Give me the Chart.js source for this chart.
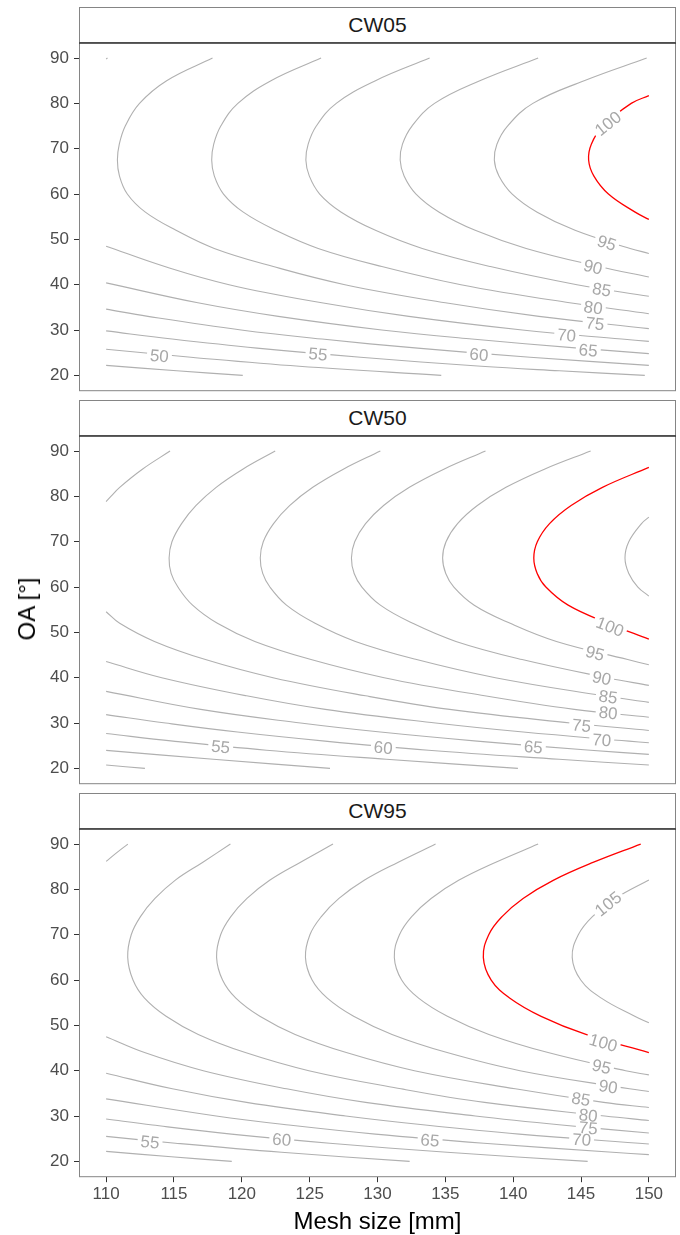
<!DOCTYPE html>
<html>
<head>
<meta charset="utf-8">
<script src="https://cdn.jsdelivr.net/npm/chart.js@4.4.1/dist/chart.umd.min.js"></script>
<style>
  html, body { margin: 0; padding: 0; background: #fff; }
  body { width: 680px; height: 1235px; position: relative; overflow: hidden; font-family: "Liberation Sans", Arial, sans-serif; }
  .strip { position: absolute; left: 79px; width: 597px; height: 35px; box-sizing: border-box;
           border: 1px solid #858585; border-bottom: none; background: #fff;
           text-align: center; font-size: 21px; line-height: 34px; color: #1a1a1a; }
  canvas { position: absolute; left: 0; }
  #ytitle { position: absolute; left: 27px; top: 609px; transform: translate(-50%, -50%) rotate(-90deg);
            font-size: 24px; color: #000; white-space: nowrap; }
</style>
</head>
<body>
<div class="strip" style="top:7px">CW05</div>
<div class="strip" style="top:400px">CW50</div>
<div class="strip" style="top:793px">CW95</div>
<canvas id="p1" width="680" height="349"></canvas>
<canvas id="p2" width="680" height="349"></canvas>
<canvas id="p3" width="680" height="407"></canvas>
<div id="ytitle">OA [°]</div>
<script>
// axis ticks
const xTicks = [110, 115, 120, 125, 130, 135, 140, 145, 150];
const yTicks = [20, 30, 40, 50, 60, 70, 80, 90];

// contour lines, [mesh size, OA]
// CW05
const cw05_45 = [[110,22.2],[115.2,21],[120.07,20]];
const cw05_50 = [[110,25.76],[116.25,24],[124.23,22],[134.7,20]];
const cw05_55 = [[110,29.8],[114.86,28],[121.12,26],[128.75,24],[137.65,22],[143.4,21],[149.7,20]];
const cw05_60 = [[110,34.6],[113.08,33],[119.95,30],[125.91,28],[132.96,26],[141.25,24],[150,22.2]];
const cw05_65 = [[110,40.4],[116.76,36],[122.69,33],[130.31,30],[136.96,28],[144.79,26],[150,24.8]];
const cw05_70 = [[110,48.5],[114.32,44],[119.06,40],[125.89,36],[132.31,33],[140.67,30],[148,28],[150,27.5]];
const cw05_70b = [[110,89.8],[110.1,90]];
const cw05_75 = [[117.84,90],[114.46,85],[112.46,80],[111.41,75],[110.97,71],[110.83,67.5],[110.98,64],[111.56,60],[112.89,56],[115.15,52],[117.97,48],[122.32,44],[127.6,40],[135.0,36],[141.9,33],[150,30.3]];
const cw05_80 = [[125.84,90],[122.15,85],[119.71,80],[118.45,75],[117.93,71],[117.78,67.5],[117.97,64],[118.65,60],[120.11,56],[122.5,52],[125.63,48],[130.32,44],[136.15,40],[144.16,36],[150,33.6]];
const cw05_85 = [[133.84,90],[129.85,85],[126.96,80],[125.49,75],[124.89,71],[124.72,67.5],[124.97,64],[125.74,60],[127.33,56],[129.85,52],[133.3,48],[138.32,44],[144.7,40],[150,37.45]];
const cw05_90 = [[141.84,90],[137.54,85],[134.2,80],[132.54,75],[131.84,71],[131.67,67.5],[131.96,64],[132.84,60],[134.55,56],[137.2,52],[140.96,48],[146.32,44],[150,41.7]];
const cw05_95 = [[149.84,90],[145.23,85],[141.45,80],[139.58,75],[138.8,71],[138.61,67.5],[138.95,64],[139.93,60],[141.77,56],[144.56,52],[148.62,48],[150,46.9]];
const cw05_100 = [[150,81.7],[148.7,80],[146.62,75],[145.76,71],[145.56,67.5],[145.94,64],[147.02,60],[148.99,56],[150,54.4]];
const cw05Labels = [[50,113.92,24.28],[55,125.61,24.66],[60,137.48,24.55],[65,145.53,25.54],[70,143.94,28.85],[75,146.03,31.43],[80,145.9,34.96],[85,146.52,38.93],[90,145.88,43.92],[95,146.89,49.21],[100,146.98,75.56]];

// CW50
const cw50_45 = [[110,20.73],[112.86,20]];
const cw50_50 = [[110,23.96],[117.9,22],[126.5,20]];
const cw50_55 = [[110,27.69],[114.93,26],[121.82,24],[130.64,22],[140.35,20]];
const cw50_60 = [[110,31.86],[114.38,30],[119.68,28],[126.13,26],[133.76,24],[143.38,22],[150,20.73]];
const cw50_65 = [[110,36.98],[116.97,33],[124.33,30],[130.21,28],[137.34,26],[145.7,24],[150,23.08]];
const cw50_70 = [[110,43.57],[114.1,40],[120.35,36],[126.15,33],[134.28,30],[140.74,28],[148.54,26],[150,25.65]];
const cw50_75a = [[110,78.86],[110.35,80],[111.0,82],[112.67,86],[114.71,90]];
const cw50_75b = [[110,54.55],[111.0,52],[113.56,48],[117.32,44],[122.3,40],[129.12,36],[135.32,33],[144.23,30],[150,28.35]];
const cw50_80 = [[122.46,90],[120.07,86],[118.11,82],[116.63,78],[115.56,74],[114.85,70],[114.64,66.4],[114.79,63],[115.29,60],[116.37,56],[118.2,52],[120.96,48],[125.1,44],[130.49,40],[137.9,36],[144.5,33],[150,31.27]];
const cw50_85 = [[130.21,90],[127.48,86],[125.23,82],[123.54,78],[122.34,74],[121.58,70],[121.36,66.4],[121.54,63],[122.07,60],[123.29,56],[125.4,52],[128.37,48],[132.88,44],[138.69,40],[146.67,36],[150,34.56]];
const cw50_90 = [[137.96,90],[134.89,86],[132.35,82],[130.45,78],[129.12,74],[128.32,70],[128.08,66.4],[128.28,63],[128.85,60],[130.21,56],[132.59,52],[135.78,48],[140.66,44],[146.89,40],[150,38.3]];
const cw50_95 = [[145.71,90],[142.3,86],[139.47,82],[137.36,78],[135.9,74],[135.05,70],[134.8,66.4],[135.03,63],[135.63,60],[137.13,56],[139.78,52],[143.19,48],[148.44,44],[150,42.84]];
const cw50_100 = [[150,86.4],[146.58,82],[144.27,78],[142.68,74],[141.78,70],[141.52,66.4],[141.77,63],[142.41,60],[144.05,56],[146.98,52],[150,48.49]];
const cw50_105 = [[150,75.42],[149.46,74],[148.52,70],[148.24,66.4],[148.52,63],[149.19,60],[150,58.0]];
const cw50Labels = [[55,118.44,24.77],[60,130.42,24.55],[65,141.48,24.68],[70,146.52,26.22],[75,145.04,29.45],[80,147.0,32.24],[85,147.0,35.75],[90,146.52,39.92],[95,146.03,45.41],[100,147.13,51.26]];

// CW95
const cw95_50 = [[110,22.2],[114.8,21],[119.26,20]];
const cw95_55 = [[110,25.5],[115.11,24],[122.93,22],[132.37,20]];
const cw95_60 = [[110,29.33],[113.42,28],[119.23,26],[126.48,24],[135.12,22],[145.49,20]];
const cw95_65 = [[110,33.79],[118.11,30],[123.47,28],[129.84,26],[137.84,24],[147.32,22],[150,21.48]];
const cw95_70 = [[110,39.44],[114.88,36],[120.35,33],[127.66,30],[133.52,28],[140.45,26],[150,23.83]];
const cw95_75a = [[110,86.18],[110.74,88],[111.6,90]];
const cw95_75b = [[110,47.49],[112.83,44],[117.16,40],[123.3,36],[129.12,33],[137.21,30],[143.57,28],[150,26.25]];
const cw95_80 = [[119.16,90],[117.13,86],[115.08,82],[113.6,78],[112.53,74],[111.85,70],[111.59,65],[111.98,60],[112.83,56],[114.42,52],[116.79,48],[120.26,44],[124.94,40],[131.73,36],[137.89,33],[146.75,30],[150,29.02]];
const cw95_85 = [[126.72,90],[124.33,86],[122.05,82],[120.38,78],[119.19,74],[118.44,70],[118.14,65],[118.58,60],[119.56,56],[121.33,52],[123.93,48],[127.7,44],[132.72,40],[140.15,36],[146.67,33],[150,31.88]];
const cw95_90 = [[134.28,90],[131.53,86],[129.02,82],[127.16,78],[125.86,74],[125.02,70],[124.69,65],[125.18,60],[126.3,56],[128.24,52],[131.07,48],[135.13,44],[140.5,40],[148.57,36],[150,35.4]];
const cw95_95 = [[141.84,90],[138.72,86],[135.98,82],[133.95,78],[132.52,74],[131.62,70],[131.24,65],[131.78,60],[133.03,56],[135.15,52],[138.21,48],[142.57,44],[148.29,40],[150,39.07]];
const cw95_100 = [[149.4,90],[145.93,86],[142.95,82],[140.73,78],[139.18,74],[138.2,70],[137.8,65],[138.38,60],[139.76,56],[142.06,52],[145.36,48],[150,43.97]];
const cw95_105 = [[150,82.09],[147.52,78],[145.84,74],[144.8,70],[144.35,65],[144.98,60],[146.5,56],[148.96,52],[150,50.56]];
const cw95Labels = [[55,113.23,24.27],[60,122.94,24.78],[65,133.87,24.62],[70,145.04,24.78],[75,145.53,27.35],[80,145.53,30.12],[85,144.99,33.72],[90,147.0,36.49],[95,146.51,40.89],[100,146.64,46.17],[105,147.0,76.81]];

const cw05Lines = [[45,cw05_45],[50,cw05_50],[55,cw05_55],[60,cw05_60],[65,cw05_65],[70,cw05_70],[70,cw05_70b],[75,cw05_75],[80,cw05_80],[85,cw05_85],[90,cw05_90],[95,cw05_95],[100,cw05_100]];
const cw50Lines = [[45,cw50_45],[50,cw50_50],[55,cw50_55],[60,cw50_60],[65,cw50_65],[70,cw50_70],[75,cw50_75a],[75,cw50_75b],[80,cw50_80],[85,cw50_85],[90,cw50_90],[95,cw50_95],[100,cw50_100],[105,cw50_105]];
const cw95Lines = [[50,cw95_50],[55,cw95_55],[60,cw95_60],[65,cw95_65],[70,cw95_70],[75,cw95_75a],[75,cw95_75b],[80,cw95_80],[85,cw95_85],[90,cw95_90],[95,cw95_95],[100,cw95_100],[105,cw95_105]];

const FONT = '"Liberation Sans", Arial, sans-serif';
Chart.defaults.font.family = FONT;

function segDist(px, py, a, b) {
  const dx = b.x - a.x, dy = b.y - a.y;
  const len = dx * dx + dy * dy;
  let t = len ? ((px - a.x) * dx + (py - a.y) * dy) / len : 0;
  t = Math.max(0, Math.min(1, t));
  const qx = a.x + t * dx - px, qy = a.y + t * dy - py;
  return Math.sqrt(qx * qx + qy * qy);
}

// labels sit on their line, turned along it, with the line cut under them
const contourLabels = {
  id: 'contourLabels',
  afterDatasetsDraw(chart, args, opts) {
    const ctx = chart.ctx, xs = chart.scales.x, ys = chart.scales.y;
    ctx.save();
    ctx.font = '17px ' + FONT;
    ctx.textAlign = 'center';
    ctx.textBaseline = 'middle';
    const items = opts.labels.map(([lv, vx, vy]) => {
      const px = xs.getPixelForValue(vx), py = ys.getPixelForValue(vy);
      let best = null, bd = Infinity;
      chart.data.datasets.forEach((ds, i) => {
        if (ds.level !== lv) return;
        const pts = chart.getDatasetMeta(i).data;
        for (let k = 0; k < pts.length - 1; k++) {
          const d = segDist(px, py, pts[k], pts[k + 1]);
          if (d < bd) { bd = d; best = [pts[k], pts[k + 1]]; }
        }
      });
      let ang = 0;
      if (best) {
        ang = Math.atan2(best[1].y - best[0].y, best[1].x - best[0].x);
        if (ang > Math.PI / 2) ang -= Math.PI;
        if (ang < -Math.PI / 2) ang += Math.PI;
      }
      return { txt: String(lv), px, py, ang };
    });
    items.forEach(it => {
      const w = ctx.measureText(it.txt).width;
      ctx.save();
      ctx.translate(it.px, it.py);
      ctx.rotate(it.ang);
      ctx.fillStyle = '#fff';
      ctx.fillRect(-w / 2 - 3, -5, w + 6, 10);
      ctx.restore();
    });
    items.forEach(it => {
      ctx.save();
      ctx.translate(it.px, it.py);
      ctx.rotate(it.ang);
      ctx.fillStyle = '#a8a8a8';
      ctx.fillText(it.txt, 0, 1);
      ctx.restore();
    });
    ctx.restore();
  }
};

const panelFrame = {
  id: 'panelFrame',
  afterDraw(chart) {
    const { ctx, chartArea: a } = chart;
    ctx.save();
    ctx.strokeStyle = '#858585';
    ctx.lineWidth = 1;
    ctx.strokeRect(a.left + 0.5, a.top + 0.5, a.right - a.left - 1, a.bottom - a.top - 1);
    ctx.strokeStyle = '#333';
    ctx.lineWidth = 1.5;
    ctx.beginPath();
    ctx.moveTo(a.left, a.top + 0.75);
    ctx.lineTo(a.right, a.top + 0.75);
    ctx.stroke();
    ctx.restore();
  }
};

const PLOT_H = 349;

function makePanel(id, lines, labels, showX, plotTop) {
  const datasets = lines.map(([lv, pts]) => ({
    level: lv,
    data: pts.map(p => ({ x: p[0], y: p[1] })),
    showLine: true,
    borderColor: lv === 100 ? '#ff0000' : '#b0b0b0',
    borderWidth: lv === 100 ? 1.3 : 1.1,
    pointRadius: 0,
    tension: 0.4,
    fill: false
  }));
  const tickGrid = { display: true, drawOnChartArea: false, drawTicks: true, tickLength: 5, color: '#333', lineWidth: 1 };
  const xScale = {
    type: 'linear', min: 108, max: 152, display: showX,
    afterBuildTicks: s => { s.ticks = xTicks.map(v => ({ value: v })); },
    grid: tickGrid,
    border: { display: false },
    ticks: { color: '#4d4d4d', font: { size: 17 }, padding: 2, maxRotation: 0, autoSkip: false },
    title: { display: true, text: 'Mesh size [mm]', color: '#000', font: { size: 24, lineHeight: 1 }, padding: { top: 0, bottom: 1 } }
  };
  if (showX) xScale.afterFit = s => { s.height = 58; };
  const canvas = document.getElementById(id);
  const chart = new Chart(canvas, {
    type: 'scatter',
    data: { datasets },
    options: {
      responsive: false,
      maintainAspectRatio: false,
      animation: false,
      events: [],
      layout: { padding: { left: 0, right: 4, top: 0, bottom: 0 } },
      plugins: {
        legend: { display: false },
        tooltip: { enabled: false },
        contourLabels: { labels }
      },
      scales: {
        x: xScale,
        y: {
          type: 'linear', min: 16.5, max: 93.5,
          afterBuildTicks: s => { s.ticks = yTicks.map(v => ({ value: v })); },
          afterFit: s => { s.width = 79; },
          grid: tickGrid,
          border: { display: false },
          ticks: { color: '#4d4d4d', font: { size: 17 }, padding: 5 }
        }
      }
    },
    plugins: [contourLabels, panelFrame]
  });
  // put the plot area exactly where the panel sits
  const padTop = chart.chartArea.top;
  const padBottom = chart.height - chart.chartArea.bottom;
  canvas.style.top = (plotTop - padTop) + 'px';
  chart.resize(680, PLOT_H + padTop + padBottom);
  return chart;
}

makePanel('p1', cw05Lines, cw05Labels, false, 42);
makePanel('p2', cw50Lines, cw50Labels, false, 435);
makePanel('p3', cw95Lines, cw95Labels, true, 828);
</script>
</body>
</html>
